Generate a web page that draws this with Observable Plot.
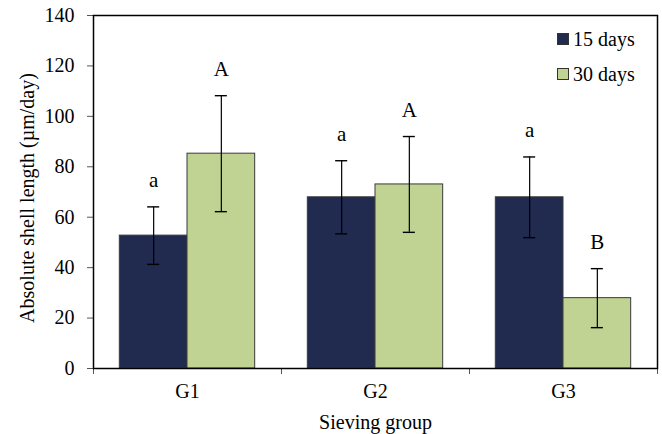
<!DOCTYPE html>
<html>
<head>
<meta charset="utf-8">
<script src="https://cdn.jsdelivr.net/npm/d3@7"></script>
<script src="https://cdn.jsdelivr.net/npm/@observablehq/plot@0.6"></script>
<style>
  html, body { margin: 0; padding: 0; background: #fff; }
  #wrap { position: relative; width: 662px; height: 434px; font-family: "Liberation Serif", "Times New Roman", serif; }
  #wrap svg text { font-family: "Liberation Serif", "Times New Roman", serif; }
  .leg { position: absolute; left: 557px; font-size: 20px; display: flex; align-items: center; color: #000; line-height: 1; }
  .sw { width: 10px; height: 10px; border: 1px solid #333; margin-right: 4px; }
</style>
</head>
<body>
<div id="wrap"></div>
<script>
const groups = ["G1", "G2", "G3"];
const seriesNames = ["15 days", "30 days"];
const means15 = [52.7, 67.9, 67.9];
const err15 = [11.4, 14.5, 16.0];
const letters15 = ["a", "a", "a"];
const means30 = [85.2, 73.0, 27.9];
const err30 = [23.0, 19.0, 11.7];
const letters30 = ["A", "A", "B"];
const yTicks = [0, 20, 40, 60, 80, 100, 120, 140];
const colors = ["#212a4f", "#c0d392"];

const barW = 0.36;   // bar width in group units
const capW = 0.032;  // half cap width in group units

const data = [];
groups.forEach((g, i) => {
  data.push({group: g, gi: i, series: seriesNames[0], si: 0, mean: means15[i], err: err15[i], letter: letters15[i]});
  data.push({group: g, gi: i, series: seriesNames[1], si: 1, mean: means30[i], err: err30[i], letter: letters30[i]});
});
const left = d => d.gi + 0.5 + (d.si - 1) * barW;
const right = d => d.gi + 0.5 + d.si * barW;
const center = d => d.gi + 0.5 + (d.si - 0.5) * barW;

const font = "Liberation Serif, Times New Roman, serif";

const chart = Plot.plot({
  width: 662,
  height: 434,
  marginLeft: 93,
  marginRight: 5,
  marginTop: 15,
  marginBottom: 66,
  style: {fontFamily: font, fontSize: "20px", color: "#000", background: "#fff"},
  x: {domain: [0, 3], label: null},
  y: {domain: [0, 140], label: null},
  color: {domain: seriesNames, range: colors},
  marks: [
    Plot.rect(data, {x1: left, x2: right, y1: 0, y2: "mean", fill: "series", stroke: "#3a3a3a", strokeWidth: 1}),
    Plot.ruleX(data, {x: center, y1: d => d.mean - d.err, y2: d => d.mean + d.err, stroke: "#000", strokeWidth: 1.2}),
    Plot.ruleY(data, {y: d => d.mean + d.err, x1: d => center(d) - capW, x2: d => center(d) + capW, stroke: "#000", strokeWidth: 1.4}),
    Plot.ruleY(data, {y: d => d.mean - d.err, x1: d => center(d) - capW, x2: d => center(d) + capW, stroke: "#000", strokeWidth: 1.4}),
    Plot.text(data, {x: center, y: d => d.mean + d.err, text: "letter", dy: -20, lineAnchor: "bottom", fontSize: 21, fill: "#000"}),
    Plot.axisY({ticks: yTicks, tickSize: 6, tickPadding: 13, fontSize: 20, fontFamily: font, label: null, stroke: "#555", fill: "#000"}),
    Plot.axisX({ticks: [0, 1, 2, 3], tickSize: 6, tickFormat: () => "", label: null, stroke: "#555"}),
    Plot.axisX({ticks: groups.map((g, i) => i + 0.5), tickSize: 0, tickPadding: 15, tickFormat: v => groups[Math.floor(v)], fontSize: 20, fontFamily: font, label: null, fill: "#000"}),
    Plot.frame({stroke: "#000", strokeWidth: 1.5}),
    Plot.text(["Absolute shell length (\u00b5m/day)"], {frameAnchor: "left", textAnchor: "middle", lineAnchor: "middle", dx: -66, dy: 6, rotate: -90, fontSize: 20, fill: "#000"}),
    Plot.text(["Sieving group"], {frameAnchor: "bottom", lineAnchor: "middle", dy: 54, fontSize: 20, fill: "#000"})
  ]
});

const wrap = document.getElementById("wrap");
wrap.appendChild(chart);
seriesNames.forEach((name, i) => {
  const el = document.createElement("div");
  el.className = "leg";
  el.style.top = (29 + i * 35) + "px";
  const sw = document.createElement("div");
  sw.className = "sw";
  sw.style.background = colors[i];
  el.appendChild(sw);
  const t = document.createElement("span");
  t.textContent = name;
  el.appendChild(t);
  wrap.appendChild(el);
});
</script>
</body>
</html>
